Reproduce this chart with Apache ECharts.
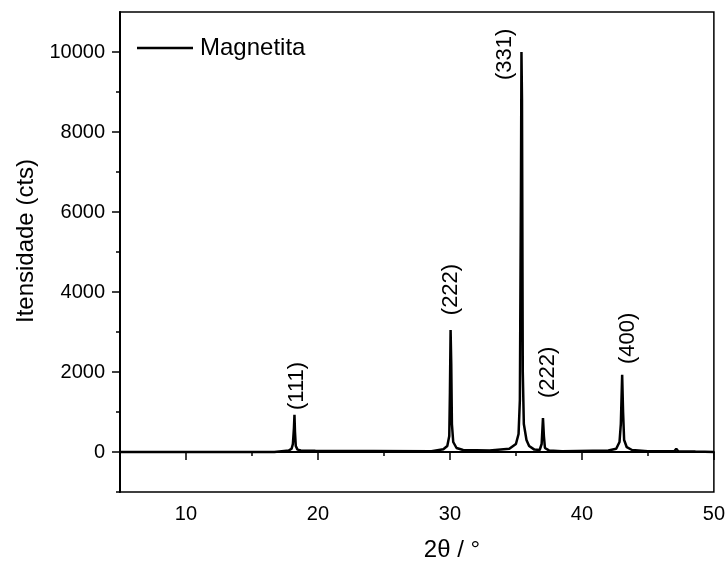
<!DOCTYPE html>
<html>
<head>
<meta charset="utf-8">
<script src="https://cdn.jsdelivr.net/npm/echarts@6/dist/echarts.min.js"></script>
<style>
  html, body { margin: 0; padding: 0; background: #fff; }
  #chart { width: 728px; height: 568px; }
</style>
</head>
<body>
<div id="chart"></div>
<script>
// diffractogram: [2theta, counts]
const pattern = [
  [5.0, 0], [10.0, 0], [16.7, 0], [16.8, 30], [17.8, 40], [18.0, 80],
  [18.1, 200], [18.18, 600], [18.22, 930], [18.26, 500], [18.32, 150],
  [18.45, 60], [18.7, 40], [19.8, 30], [19.9, 10],
  [28.6, 20], [28.7, 40], [29.5, 70], [29.8, 150], [29.95, 400],
  [30.0, 1500], [30.05, 3050], [30.1, 2200], [30.15, 700], [30.25, 250],
  [30.5, 100], [31.0, 50], [33.0, 40], [34.5, 80], [35.0, 200],
  [35.2, 450], [35.3, 1300], [35.38, 6500], [35.42, 10000], [35.46, 8800],
  [35.52, 2000], [35.6, 700], [35.8, 300], [36.0, 150], [36.4, 60],
  [36.8, 50], [36.95, 200], [37.05, 850], [37.12, 400], [37.2, 100],
  [37.5, 40], [38.5, 20], [42.0, 40], [42.6, 80], [42.85, 250],
  [42.95, 700], [43.05, 1930], [43.12, 1000], [43.2, 300], [43.4, 120],
  [43.8, 50], [45.0, 20], [47.0, 20], [47.15, 80], [47.3, 20],
  [48.6, 10], [50.0, 0]
];

// Miller index labels: [2theta, counts at label foot, text]
const peakLabels = [
  [18.4, 1050, '(111)'],
  [30.1, 3420, '(222)'],
  [34.2, 9300, '(331)'],
  [37.4, 1350, '(222)'],
  [43.5, 2200, '(400)']
];

const xMajor = [10, 20, 30, 40, 50];
const xMinor = [5, 15, 25, 35, 45];
const yMajor = [0, 2000, 4000, 6000, 8000, 10000];
const yMinor = [-1000, 1000, 3000, 5000, 7000, 9000];

const font = 'Liberation Sans, Arial, sans-serif';
const chart = echarts.init(document.getElementById('chart'));

const axisLine = { show: true, lineStyle: { color: '#000', width: 2 } };

chart.setOption({
  animation: false,
  grid: {
    left: 120, right: 12, top: 12, bottom: 76,
    show: true, borderColor: '#000', borderWidth: 1.5
  },
  legend: {
    left: 132, top: 31,
    icon: 'rect',
    itemWidth: 56, itemHeight: 2.5, itemGap: 10,
    textStyle: { fontFamily: font, fontSize: 24, color: '#000', padding: [0, 0, 0, 2] },
    data: ['Magnetita']
  },
  xAxis: [
    {
      type: 'value', min: 5, max: 50, interval: 5,
      name: '2θ / °', nameLocation: 'middle', nameGap: 46,
      nameTextStyle: { fontFamily: font, fontSize: 24, color: '#000', padding: [0, 0, 0, 70] },
      axisLine: axisLine,
      axisTick: { show: true, length: 8, customValues: xMajor, lineStyle: { color: '#000', width: 1.5 } },
      axisLabel: { customValues: xMajor, margin: 12, fontFamily: font, fontSize: 20, color: '#000' },
      splitLine: { show: false }
    },
    {
      type: 'value', min: 5, max: 50, interval: 5, position: 'bottom',
      axisLine: { show: false },
      axisTick: { show: true, length: 4, customValues: xMinor, lineStyle: { color: '#000', width: 1.5 } },
      axisLabel: { show: false },
      splitLine: { show: false }
    }
  ],
  yAxis: [
    {
      type: 'value', min: -1000, max: 11000, interval: 1000,
      name: 'Itensidade (cts)', nameLocation: 'middle', nameGap: 80,
      nameTextStyle: { fontFamily: font, fontSize: 24, color: '#000', padding: [0, 0, 0, 22] },
      axisLine: axisLine,
      axisTick: { show: true, length: 8, customValues: yMajor, lineStyle: { color: '#000', width: 1.5 } },
      axisLabel: {
        customValues: yMajor, margin: 15, fontFamily: font, fontSize: 20, color: '#000',
        formatter: v => String(v)
      },
      splitLine: { show: false }
    },
    {
      type: 'value', min: -1000, max: 11000, interval: 1000, position: 'left',
      axisLine: { show: false },
      axisTick: { show: true, length: 4, customValues: yMinor, lineStyle: { color: '#000', width: 1.5 } },
      axisLabel: { show: false },
      splitLine: { show: false }
    }
  ],
  series: [
    {
      name: 'Magnetita',
      type: 'line',
      data: pattern,
      symbol: 'none',
      color: '#000',
      lineStyle: { color: '#000', width: 2.5 }
    },
    {
      name: 'labels',
      type: 'scatter',
      data: peakLabels.map(p => ({ value: [p[0], p[1]], name: p[2] })),
      symbolSize: 0,
      silent: true,
      itemStyle: { opacity: 1 },
      label: {
        show: true,
        position: 'inside',
        rotate: 90,
        align: 'left',
        verticalAlign: 'middle',
        formatter: p => p.name,
        fontFamily: font,
        fontSize: 22,
        color: '#000',
        opacity: 1,
        textBorderWidth: 0
      }
    }
  ]
});
</script>
</body>
</html>
